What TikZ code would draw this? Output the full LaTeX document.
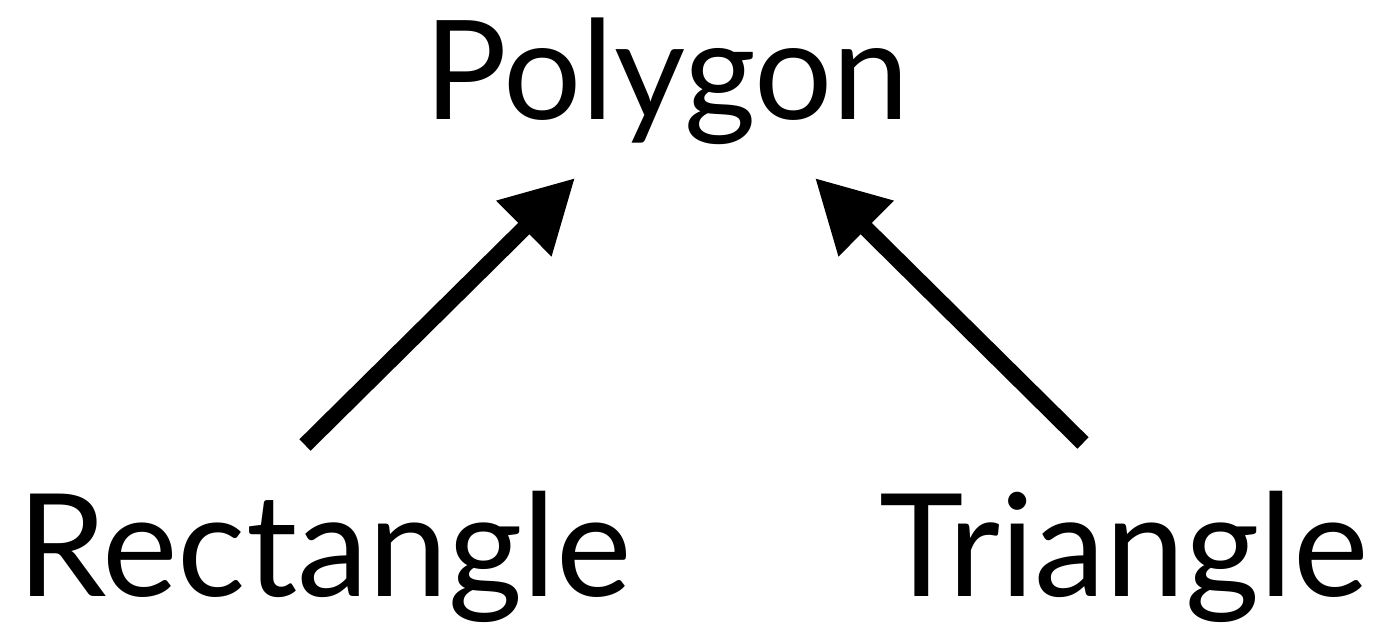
\documentclass[tikz,border=0pt]{standalone}
\usepackage{fontspec}
\setmainfont{Lato}
\usetikzlibrary{arrows.meta}
\begin{document}
\begin{tikzpicture}[x=1pt,y=1pt,
  label/.style={inner sep=0pt, font=\fontsize{#1}{#1}\selectfont},
  isa/.style={line width=16pt, -{Triangle[length=72pt,width=74pt]}}]
\useasboundingbox (0,0) rectangle (1387,634);
% class names
\node[label=138, anchor=base west] (poly) at (424,514) {Polygon};
\node[label=143, anchor=base west] (rect) at (17,37) {Rectangle};
\node[label=143, anchor=base east] (tri) at (1369,37) {Triangle};
% inheritance arrows
\coordinate (rtail) at (305,189);
\coordinate (rhead) at (575,456);
\coordinate (ttail) at (1083,191);
\coordinate (thead) at (815,456);
\draw[isa] (rtail) -- (rhead);
\draw[isa] (ttail) -- (thead);
\end{tikzpicture}
\end{document}
